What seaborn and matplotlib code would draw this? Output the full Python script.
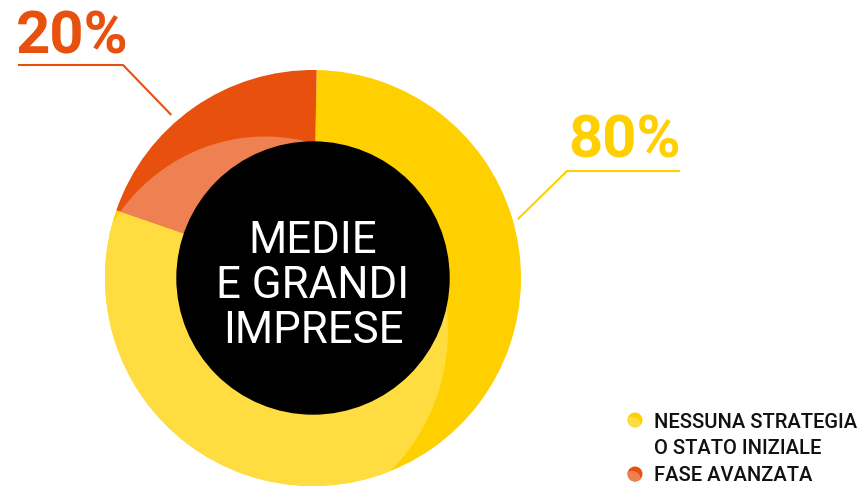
import matplotlib.pyplot as plt
import seaborn as sns
import numpy as np
from matplotlib.patches import Circle, Ellipse

# dati
categories = ['NESSUNA STRATEGIA\nO STATO INIZIALE', 'FASE AVANZATA']
values = [80, 20]
pct_labels = ['80%', '20%']
center_label = 'MEDIE\nE GRANDI\nIMPRESE'

dark_colors = ['#FFD000', '#E8500E']
light_colors = ['#FFDC40', '#EF8052']

sns.set_theme(style='white')
plt.rcParams['font.family'] = ['Roboto', 'DejaVu Sans']

fig = plt.figure(figsize=(8.66, 4.87), dpi=100)
ax = fig.add_axes([0, 0, 1, 1])

cx, cy, R = 313, 209, 208
r_hole = 136

# anello esterno scuro
ax.pie(values, colors=dark_colors, startangle=89, counterclock=False,
       center=(cx, cy), radius=R, frame=True,
       wedgeprops=dict(linewidth=0))

# parte chiara: stessa torta ritagliata da un'ellisse spostata
light_wedges, _ = ax.pie(values, colors=light_colors, startangle=89, counterclock=False,
                         center=(cx, cy), radius=R, frame=True,
                         wedgeprops=dict(linewidth=0))
clip = Ellipse((265, 157), 366, 387, facecolor='none', edgecolor='none')
ax.add_patch(clip)
for w in light_wedges:
    w.set_clip_path(clip)
    w.set_clip_on(True)

ax.add_patch(Circle((cx, cy), r_hole, color='black', zorder=5))
ax.text(cx, cy - 8, center_label, color='white', fontsize=31.5, ha='center', va='center',
        linespacing=1.1, zorder=6)

ax.set_xlim(0, 866)
ax.set_ylim(0, 487)
ax.set_aspect('equal')
ax.axis('off')

# etichette percentuali con linee guida
a20 = np.deg2rad(131)
ex, ey = cx + (R + 8) * np.cos(a20), cy + (R + 8) * np.sin(a20)
ax.plot([18, 123, ex], [422, 422, ey], color=dark_colors[1], lw=1.5, solid_capstyle='butt')
ax.text(16, 434, pct_labels[1], color=dark_colors[1], fontsize=43, fontweight='bold',
        ha='left', va='baseline')

a80 = np.deg2rad(16)
ex, ey = cx + (R + 5) * np.cos(a80), cy + (R + 5) * np.sin(a80)
ax.plot([ex, 567, 680], [ey, 316, 316], color=dark_colors[0], lw=1.5, solid_capstyle='butt')
ax.text(568, 330, pct_labels[0], color=dark_colors[0], fontsize=43, fontweight='bold',
        ha='left', va='baseline')

# legenda
leg_y = [67, 13]
for cat, yy, dc, lc in zip(categories, leg_y, dark_colors, light_colors):
    ax.add_patch(Circle((635, yy), 7.5, color=dc, lw=0, zorder=3))
    lclip = Circle((632, yy - 6), 9, facecolor='none', edgecolor='none')
    ax.add_patch(lclip)
    lp = Circle((635, yy), 7.5, color=lc, lw=0, zorder=4)
    ax.add_patch(lp)
    lp.set_clip_path(lclip)
    nl = cat.count('\n')
    ax.text(654, yy - 7 - 27 * nl, cat, fontsize=14.5, fontweight='medium', color='#111111',
            ha='left', va='baseline', linespacing=1.5)

fig.savefig('out.png', dpi=100)
